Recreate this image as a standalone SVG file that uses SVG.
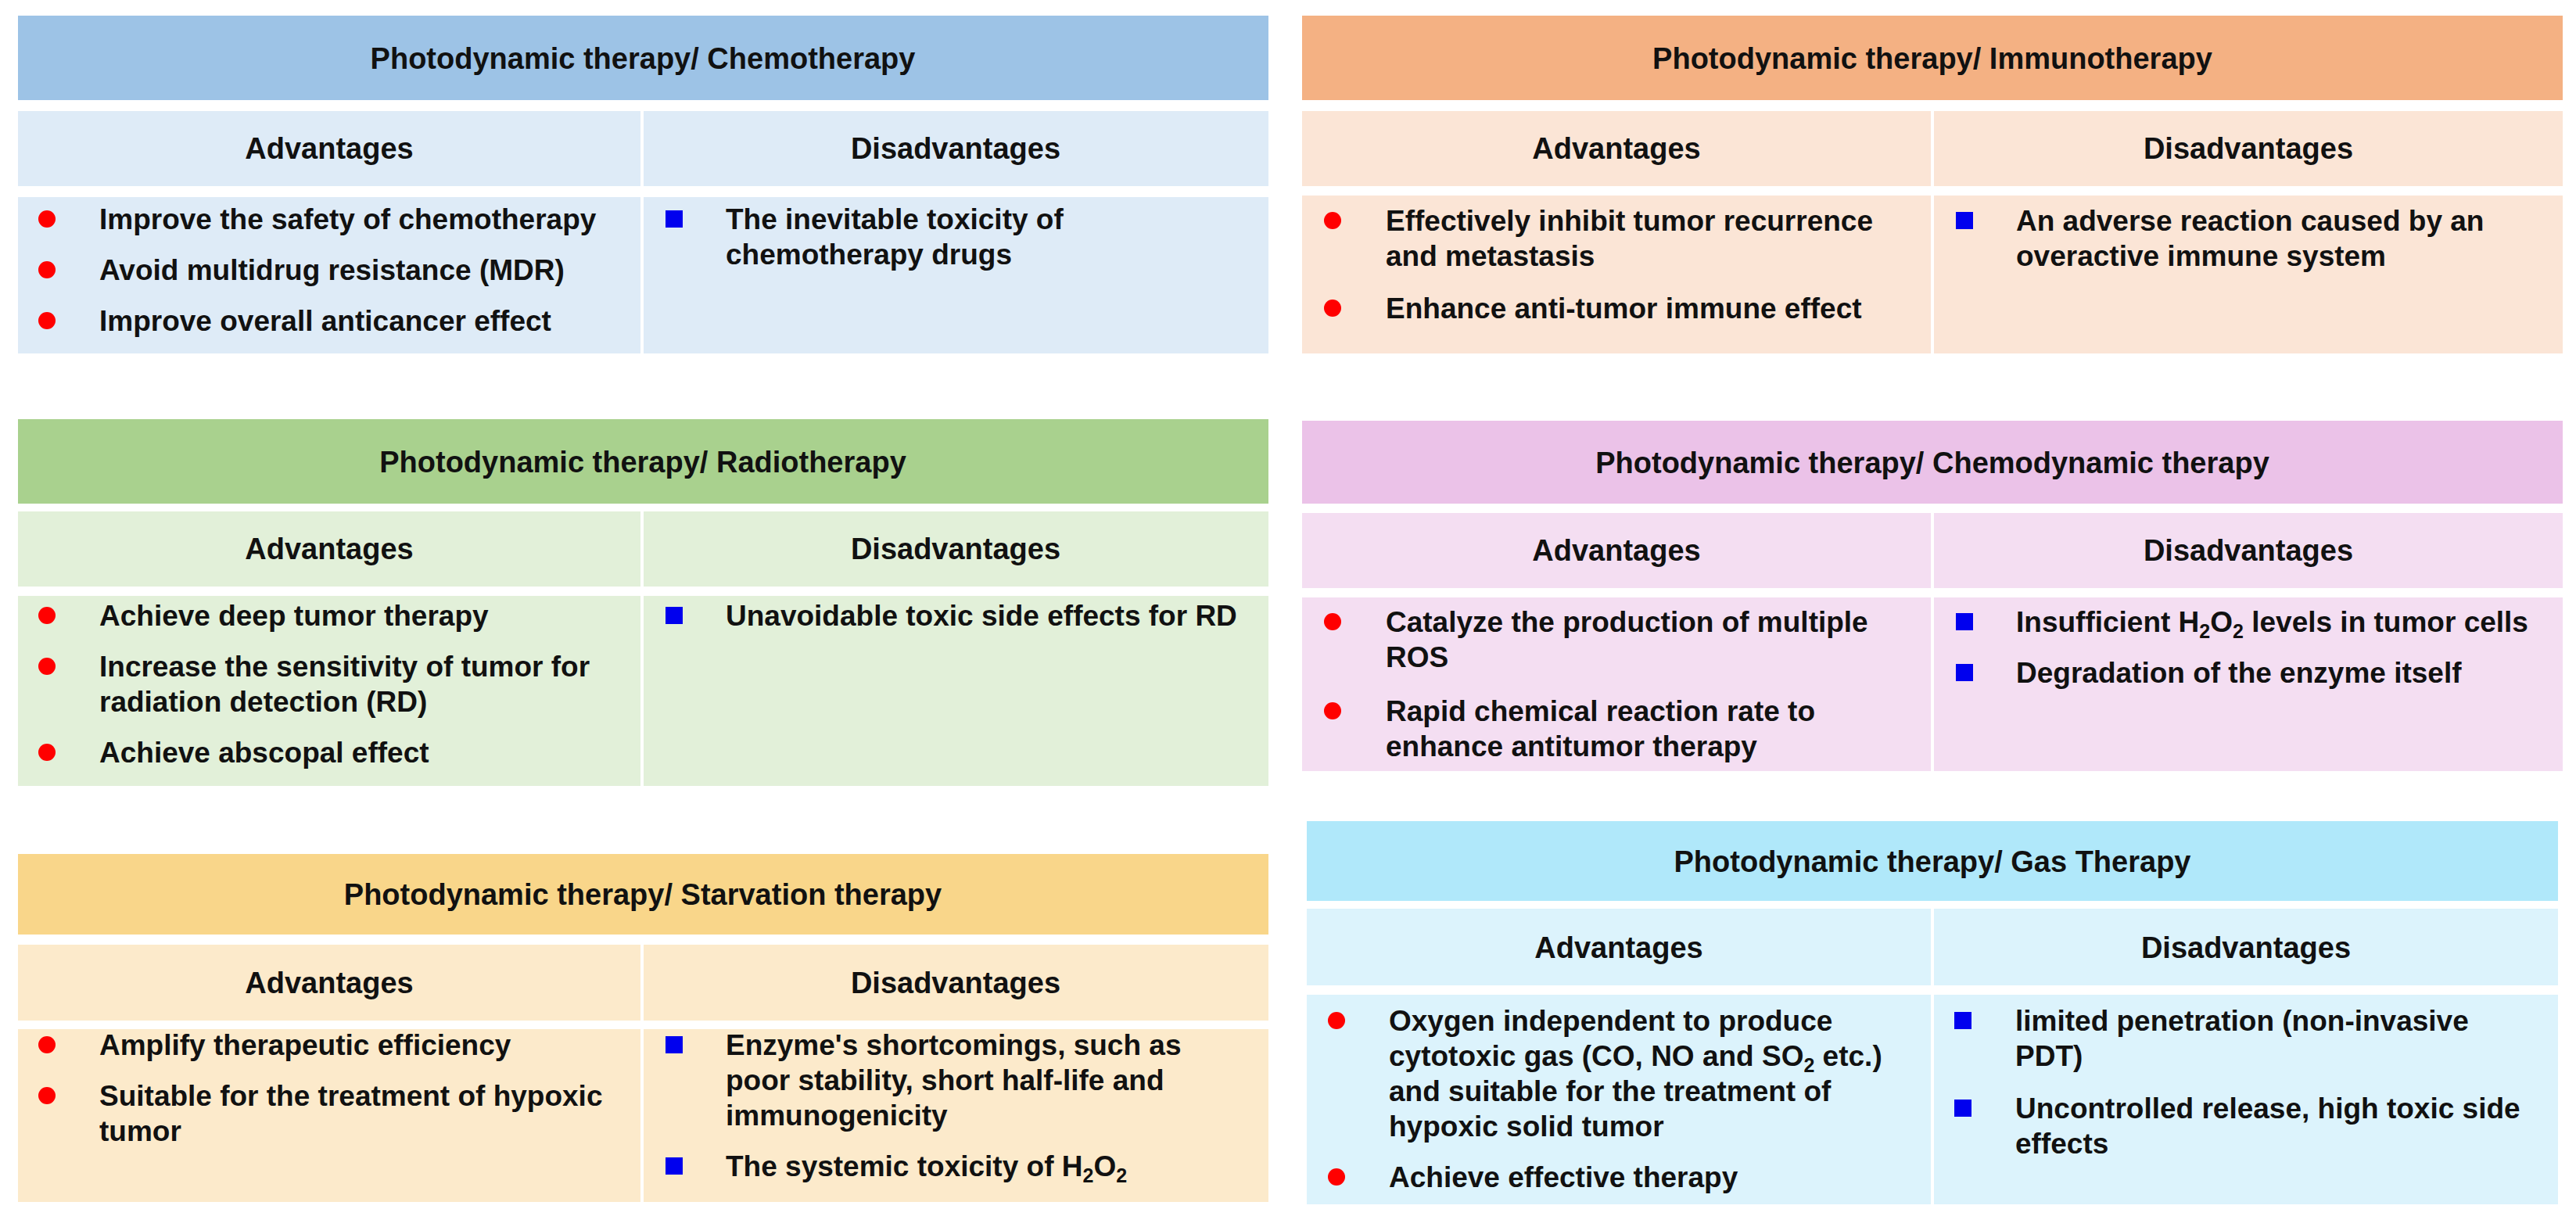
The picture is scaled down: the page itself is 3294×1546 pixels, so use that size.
<svg xmlns="http://www.w3.org/2000/svg" width="3294" height="1546" viewBox="0 0 3294 1546">
<style>
text{font-family:"Liberation Sans",Arial,sans-serif;font-weight:bold;font-size:37px;fill:#111}
.h{font-size:38px;text-anchor:middle}
.s{font-size:38px;text-anchor:middle}
.dot{fill:#f00}
.sq{fill:#0000ee}
.sub{font-size:25px}
</style>
<rect width="3294" height="1546" fill="#fff"/>
<g id="chemo">
<rect x="23" y="20" width="1599" height="108" fill="#9DC3E6"/>
<rect x="23" y="142" width="796" height="96" fill="#DEEBF7"/>
<rect x="823" y="142" width="799" height="96" fill="#DEEBF7"/>
<rect x="23" y="252" width="796" height="200" fill="#DEEBF7"/>
<rect x="823" y="252" width="799" height="200" fill="#DEEBF7"/>
<text class="h" x="822" y="88">Photodynamic therapy/ Chemotherapy</text>
<text class="s" x="421" y="203">Advantages</text>
<text class="s" x="1222" y="203">Disadvantages</text>
<circle class="dot" cx="60" cy="280" r="11"/><text x="127" y="293">Improve the safety of chemotherapy</text>
<circle class="dot" cx="60" cy="345" r="11"/><text x="127" y="358">Avoid multidrug resistance (MDR)</text>
<circle class="dot" cx="60" cy="410" r="11"/><text x="127" y="423">Improve overall anticancer effect</text>
<rect class="sq" x="851" y="269" width="22" height="22"/><text x="928" y="293">The inevitable toxicity of</text><text x="928" y="338">chemotherapy drugs</text>
</g>
<g id="immuno">
<rect x="1665" y="20" width="1612" height="108" fill="#F4B183"/>
<rect x="1665" y="142" width="804" height="96" fill="#FBE5D6"/>
<rect x="2473" y="142" width="804" height="96" fill="#FBE5D6"/>
<rect x="1665" y="250" width="804" height="202" fill="#FBE5D6"/>
<rect x="2473" y="250" width="804" height="202" fill="#FBE5D6"/>
<text class="h" x="2471" y="88">Photodynamic therapy/ Immunotherapy</text>
<text class="s" x="2067" y="203">Advantages</text>
<text class="s" x="2875" y="203">Disadvantages</text>
<circle class="dot" cx="1704" cy="282" r="11"/><text x="1772" y="295">Effectively inhibit tumor recurrence</text><text x="1772" y="340">and metastasis</text>
<circle class="dot" cx="1704" cy="394" r="11"/><text x="1772" y="407">Enhance anti-tumor immune effect</text>
<rect class="sq" x="2501" y="271" width="22" height="22"/><text x="2578" y="295">An adverse reaction caused by an</text><text x="2578" y="340">overactive immune system</text>
</g>
<g id="radio">
<rect x="23" y="536" width="1599" height="108" fill="#A9D18E"/>
<rect x="23" y="654" width="796" height="96" fill="#E2F0D9"/>
<rect x="823" y="654" width="799" height="96" fill="#E2F0D9"/>
<rect x="23" y="762" width="796" height="243" fill="#E2F0D9"/>
<rect x="823" y="762" width="799" height="243" fill="#E2F0D9"/>
<text class="h" x="822" y="604">Photodynamic therapy/ Radiotherapy</text>
<text class="s" x="421" y="715">Advantages</text>
<text class="s" x="1222" y="715">Disadvantages</text>
<circle class="dot" cx="60" cy="787" r="11"/><text x="127" y="800">Achieve deep tumor therapy</text>
<circle class="dot" cx="60" cy="852" r="11"/><text x="127" y="865">Increase the sensitivity of tumor for</text><text x="127" y="910">radiation detection (RD)</text>
<circle class="dot" cx="60" cy="962" r="11"/><text x="127" y="975">Achieve abscopal effect</text>
<rect class="sq" x="851" y="776" width="22" height="22"/><text x="928" y="800">Unavoidable toxic side effects for RD</text>
</g>
<g id="chemodynamic">
<rect x="1665" y="538" width="1612" height="106" fill="#EBC2E8"/>
<rect x="1665" y="656" width="804" height="96" fill="#F4DEF2"/>
<rect x="2473" y="656" width="804" height="96" fill="#F4DEF2"/>
<rect x="1665" y="764" width="804" height="222" fill="#F4DEF2"/>
<rect x="2473" y="764" width="804" height="222" fill="#F4DEF2"/>
<text class="h" x="2471" y="605">Photodynamic therapy/ Chemodynamic therapy</text>
<text class="s" x="2067" y="717">Advantages</text>
<text class="s" x="2875" y="717">Disadvantages</text>
<circle class="dot" cx="1704" cy="795" r="11"/><text x="1772" y="808">Catalyze the production of multiple</text><text x="1772" y="853">ROS</text>
<circle class="dot" cx="1704" cy="909" r="11"/><text x="1772" y="922">Rapid chemical reaction rate to</text><text x="1772" y="967">enhance antitumor therapy</text>
<rect class="sq" x="2501" y="784" width="22" height="22"/><text x="2578" y="808">Insufficient H<tspan class="sub" dy="8">2</tspan><tspan dy="-8">O</tspan><tspan class="sub" dy="8">2</tspan><tspan dy="-8"> levels in tumor cells</tspan></text>
<rect class="sq" x="2501" y="849" width="22" height="22"/><text x="2578" y="873">Degradation of the enzyme itself</text>
</g>
<g id="starvation">
<rect x="23" y="1092" width="1599" height="103" fill="#F9D68A"/>
<rect x="23" y="1208" width="796" height="97" fill="#FCEACB"/>
<rect x="823" y="1208" width="799" height="97" fill="#FCEACB"/>
<rect x="23" y="1316" width="796" height="221" fill="#FCEACB"/>
<rect x="823" y="1316" width="799" height="221" fill="#FCEACB"/>
<text class="h" x="822" y="1157">Photodynamic therapy/ Starvation therapy</text>
<text class="s" x="421" y="1270">Advantages</text>
<text class="s" x="1222" y="1270">Disadvantages</text>
<circle class="dot" cx="60" cy="1336" r="11"/><text x="127" y="1349">Amplify therapeutic efficiency</text>
<circle class="dot" cx="60" cy="1401" r="11"/><text x="127" y="1414">Suitable for the treatment of hypoxic</text><text x="127" y="1459">tumor</text>
<rect class="sq" x="851" y="1325" width="22" height="22"/><text x="928" y="1349">Enzyme's shortcomings, such as</text><text x="928" y="1394">poor stability, short half-life and</text><text x="928" y="1439">immunogenicity</text>
<rect class="sq" x="851" y="1480" width="22" height="22"/><text x="928" y="1504">The systemic toxicity of H<tspan class="sub" dy="8">2</tspan><tspan dy="-8">O</tspan><tspan class="sub" dy="8">2</tspan></text>
</g>
<g id="gas">
<rect x="1671" y="1050" width="1600" height="102" fill="#B0E8FA"/>
<rect x="1671" y="1162" width="798" height="98" fill="#DCF3FC"/>
<rect x="2473" y="1162" width="798" height="98" fill="#DCF3FC"/>
<rect x="1671" y="1272" width="798" height="268" fill="#DCF3FC"/>
<rect x="2473" y="1272" width="798" height="268" fill="#DCF3FC"/>
<text class="h" x="2471" y="1115">Photodynamic therapy/ Gas Therapy</text>
<text class="s" x="2070" y="1225">Advantages</text>
<text class="s" x="2872" y="1225">Disadvantages</text>
<circle class="dot" cx="1709" cy="1305" r="11"/><text x="1776" y="1318">Oxygen independent to produce</text><text x="1776" y="1363">cytotoxic gas (CO, NO and SO<tspan class="sub" dy="8">2</tspan><tspan dy="-8"> etc.)</tspan></text><text x="1776" y="1408">and suitable for the treatment of</text><text x="1776" y="1453">hypoxic solid tumor</text>
<circle class="dot" cx="1709" cy="1505" r="11"/><text x="1776" y="1518">Achieve effective therapy</text>
<rect class="sq" x="2499" y="1294" width="22" height="22"/><text x="2577" y="1318">limited penetration (non-invasive</text><text x="2577" y="1363">PDT)</text>
<rect class="sq" x="2499" y="1406" width="22" height="22"/><text x="2577" y="1430">Uncontrolled release, high toxic side</text><text x="2577" y="1475">effects</text>
</g>
<g id="connectors"/>
</svg>
